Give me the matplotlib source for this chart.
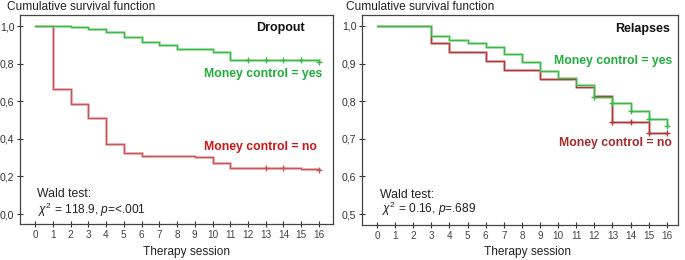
import matplotlib
matplotlib.use("Agg")
import matplotlib.pyplot as plt

plt.rcParams['font.family'] = ['Liberation Sans', 'DejaVu Sans']
plt.rcParams['mathtext.fontset'] = 'custom'
plt.rcParams['mathtext.rm'] = 'Liberation Sans'
plt.rcParams['mathtext.it'] = 'Liberation Sans:italic'

# ---- Data: Dropout panel ----
drop_yes_t = [0, 2, 3, 4, 5, 6, 7, 8, 10, 11, 16]
drop_yes_s = [1.0, 0.997, 0.986, 0.970, 0.943, 0.918, 0.897, 0.878, 0.860, 0.820, 0.810]
drop_yes_cens_t = [12, 13, 14, 15, 16]
drop_yes_cens_s = [0.820, 0.820, 0.820, 0.820, 0.810]

drop_no_t = [0, 1, 2, 3, 4, 5, 6, 9, 10, 11, 15, 16]
drop_no_s = [1.0, 0.663, 0.587, 0.511, 0.372, 0.323, 0.309, 0.302, 0.273, 0.245, 0.240, 0.233]
drop_no_cens_t = [13, 14, 16]
drop_no_cens_s = [0.245, 0.245, 0.233]

# ---- Data: Relapses panel ----
rel_yes_t = [0, 3, 4, 5, 6, 7, 8, 9, 10, 11, 12, 13, 14, 15, 16]
rel_yes_s = [1.0, 0.974, 0.963, 0.954, 0.945, 0.925, 0.903, 0.880, 0.861, 0.843,
             0.810, 0.795, 0.775, 0.752, 0.733]
rel_yes_cens_t = [12, 13, 14, 15, 16]
rel_yes_cens_s = [0.810, 0.795, 0.775, 0.752, 0.733]

rel_no_t = [0, 3, 4, 6, 7, 9, 11, 12, 13, 15, 16]
rel_no_s = [1.0, 0.954, 0.930, 0.906, 0.884, 0.860, 0.837, 0.814, 0.744, 0.716, 0.716]
rel_no_cens_t = [13, 14, 15, 16]
rel_no_cens_s = [0.744, 0.744, 0.716, 0.716]

x_ticks = list(range(0, 17))
drop_yticks = [0.0, 0.2, 0.4, 0.6, 0.8, 1.0]
rel_yticks = [0.5, 0.6, 0.7, 0.8, 0.9, 1.0]

GREEN = '#3cb84a'
GREEN_L = '#b5e6b8'
RED_L_LINE = '#c85858'
RED_L_SHADE = '#ecbcbc'
RED_R_LINE = '#b03a3a'
RED_R_SHADE = '#e2b4b4'
GREEN_TXT = '#1fae3a'

W, H = 685, 260
fig = plt.figure(figsize=(W / 100, H / 100), dpi=100)


def ax_rect(l, t, r, b):
    return [l / W, 1 - b / H, (r - l) / W, (b - t) / H]


def km(ax, t, s, line, shade, ct, cs):
    ax.step(t, s, where='post', color=shade, lw=2.2, solid_capstyle='butt', zorder=2)
    ax.step(t, s, where='post', color=line, lw=0.9, zorder=3)
    ax.plot(ct, cs, linestyle='none', marker='+', ms=5, mew=1.0, color=line, zorder=4)


def style(ax, yticks, ylim, xlim):
    ax.set_xlim(*xlim)
    ax.set_ylim(*ylim)
    ax.set_xticks(x_ticks)
    ax.set_xticklabels([str(v) for v in x_ticks], fontsize=7.2, color='#444444')
    ax.set_yticks(yticks)
    ax.set_yticklabels([f"{v:.1f}".replace('.', ',') for v in yticks], fontsize=7.6, color='#333333')
    ax.tick_params(axis='both', direction='inout', length=5, width=0.8, color='#333333', pad=1.5)
    for sp in ax.spines.values():
        sp.set_color('#444444')
        sp.set_linewidth(0.9)


FS = 8.8

# Left panel: Dropout
ax1 = fig.add_axes(ax_rect(20, 15, 333, 224))
km(ax1, drop_no_t, drop_no_s, RED_L_LINE, RED_L_SHADE, drop_no_cens_t, drop_no_cens_s)
km(ax1, drop_yes_t, drop_yes_s, GREEN, GREEN_L, drop_yes_cens_t, drop_yes_cens_s)
style(ax1, drop_yticks, (-0.053, 1.059), (-0.85, 16.79))
ax1.text(15.2, 0.99, 'Dropout', ha='right', va='center', fontsize=9, fontweight='bold', color='#111111')
ax1.text(16.17, 0.745, 'Money control = yes', ha='right', va='center', fontsize=FS,
         fontweight='bold', color=GREEN_TXT)
ax1.text(15.9, 0.356, 'Money control = no', ha='right', va='center', fontsize=FS,
         fontweight='bold', color='#cc1414')
ax1.text(0.11, 0.106, 'Wald test:', ha='left', va='center', fontsize=8.8, color='#222222')
ax1.text(0.17, 0.021, r'$\chi^2$ = 118.9, $p$=<.001', ha='left', va='center', fontsize=8.6, color='#222222')

# Right panel: Relapses
ax2 = fig.add_axes(ax_rect(362, 15, 678, 225))
km(ax2, rel_no_t, rel_no_s, RED_R_LINE, RED_R_SHADE, rel_no_cens_t, rel_no_cens_s)
km(ax2, rel_yes_t, rel_yes_s, GREEN, GREEN_L, rel_yes_cens_t, rel_yes_cens_s)
style(ax2, rel_yticks, (0.471, 1.029), (-0.83, 16.62))
ax2.text(16.2, 0.992, 'Relapses', ha='right', va='center', fontsize=9, fontweight='bold', color='#111111')
ax2.text(16.3, 0.907, 'Money control = yes', ha='right', va='center', fontsize=FS,
         fontweight='bold', color=GREEN_TXT)
ax2.text(16.3, 0.688, 'Money control = no', ha='right', va='center', fontsize=FS,
         fontweight='bold', color='#a52a2a')
ax2.text(0.17, 0.551, 'Wald test:', ha='left', va='center', fontsize=8.8, color='#222222')
ax2.text(0.27, 0.513, r'$\chi^2$ = 0.16, $p$=.689', ha='left', va='center', fontsize=8.6, color='#222222')

# Figure texts
fig.text(7 / W, 1 - 7 / H, 'Cumulative survival function', ha='left', va='center', fontsize=8.6, color='#222222')
fig.text(346 / W, 1 - 7 / H, 'Cumulative survival function', ha='left', va='center', fontsize=8.6, color='#222222')
fig.text(187 / W, 1 - 252 / H, 'Therapy session', ha='center', va='center', fontsize=8.6, color='#222222')
fig.text(527 / W, 1 - 252 / H, 'Therapy session', ha='center', va='center', fontsize=8.6, color='#222222')

fig.savefig('out.png', dpi=100)
